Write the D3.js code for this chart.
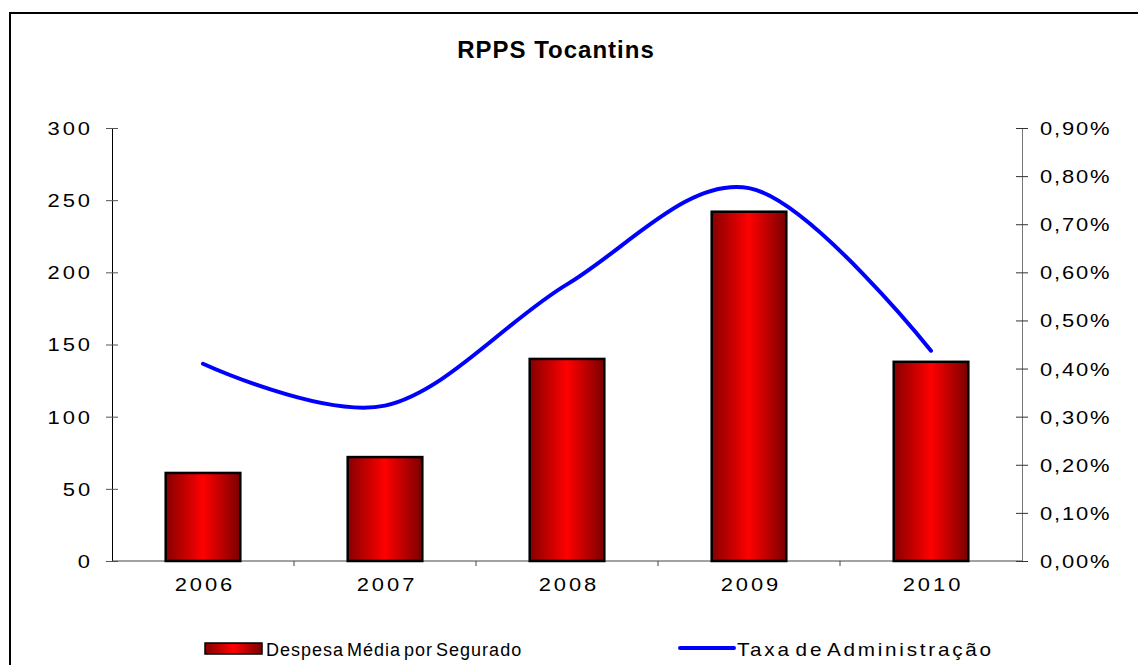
<!DOCTYPE html>
<html>
<head>
<meta charset="utf-8">
<script src="https://cdn.jsdelivr.net/npm/d3@7"></script>
<style>
  html, body { margin: 0; padding: 0; background: #fff; }
  svg { display: block; }
  text { font-family: "Liberation Sans", Arial, sans-serif; fill: #000; }
</style>
</head>
<body>
<svg id="chart" width="1138" height="665"></svg>
<script>
const title = "RPPS Tocantins";
const categories = ["2006", "2007", "2008", "2009", "2010"];
const despesa = [61, 72, 140, 242, 138];
const taxa = [0.41, 0.323, 0.575, 0.775, 0.437];
const leftTicks = [0, 50, 100, 150, 200, 250, 300];
const rightTicks = [0, 0.1, 0.2, 0.3, 0.4, 0.5, 0.6, 0.7, 0.8, 0.9];
const seriesNames = ["Despesa Média por Segurado", "Taxa de Administração"];

const svg = d3.select("#chart");
const W = 1138, H = 665;
const plot = { left: 112, right: 1022, top: 128, bottom: 561 };
const SX = 1.22; // horizontal stretch of axis text

// frame
svg.append("rect").attr("x", 10).attr("y", 13).attr("width", W + 20).attr("height", H + 20)
  .attr("fill", "#fff").attr("stroke", "#000").attr("stroke-width", 2);

// gradient
const defs = svg.append("defs");
const g1 = defs.append("linearGradient").attr("id", "barGrad").attr("x1", "0%").attr("x2", "100%").attr("y1", "0%").attr("y2", "0%");
g1.append("stop").attr("offset", "0%").attr("stop-color", "#860000");
g1.append("stop").attr("offset", "50%").attr("stop-color", "#ff0000");
g1.append("stop").attr("offset", "100%").attr("stop-color", "#7a0000");

const x = d3.scaleBand().domain(categories).range([plot.left, plot.right]).paddingInner(0.59).paddingOuter(0.295);
const xOuter = d3.scaleBand().domain(categories).range([plot.left, plot.right]);
const yL = d3.scaleLinear().domain([0, 300]).range([plot.bottom, plot.top]);
const yR = d3.scaleLinear().domain([0, 0.9]).range([plot.bottom, plot.top]);

// title
svg.append("text").attr("x", 556).attr("y", 58).attr("text-anchor", "middle")
  .style("font-size", "24px").style("font-weight", "bold").style("letter-spacing", "1px").text(title);

// left axis
const leftAxis = d3.axisLeft(yL).tickValues(leftTicks).tickSizeInner(6).tickSizeOuter(0);
const gL = svg.append("g").attr("transform", `translate(${plot.left},0)`).call(leftAxis);
gL.select(".domain").attr("stroke", "#000");
gL.selectAll(".tick line").attr("x2", 6).attr("x1", -6).attr("stroke", "#555");
gL.selectAll(".tick text").style("font-size", "18px").style("letter-spacing", "2.4px")
  .attr("x", -19 / SX).attr("dy", "0.36em").attr("transform", `scale(${SX},1)`);

// right axis
const rightAxis = d3.axisRight(yR).tickValues(rightTicks).tickSizeInner(6).tickSizeOuter(0)
  .tickFormat(d => d.toFixed(2).replace(".", ",") + "%");
const gR = svg.append("g").attr("transform", `translate(${plot.right},0)`).call(rightAxis);
gR.select(".domain").attr("stroke", "#777");
gR.selectAll(".tick line").attr("x1", -6).attr("x2", 6).attr("stroke", "#333");
gR.selectAll(".tick text").style("font-size", "18px").style("letter-spacing", "1.5px")
  .attr("x", 18 / SX).attr("dy", "0.36em").attr("transform", `scale(${SX},1)`);

// bottom axis
const gB = svg.append("g").attr("transform", `translate(0,${plot.bottom})`);
gB.append("line").attr("x1", plot.left).attr("x2", plot.right).attr("stroke", "#444");
const bounds = categories.slice(1).map(c => xOuter(c));
gB.selectAll("line.tk").data(bounds).enter().append("line").attr("class", "tk")
  .attr("x1", d => d).attr("x2", d => d).attr("y1", 0).attr("y2", 5).attr("stroke", "#444");
gB.selectAll("text").data(categories).enter().append("text")
  .attr("x", d => (xOuter(d) + xOuter.bandwidth() / 2 + 2) / SX).attr("y", 30).attr("text-anchor", "middle")
  .attr("transform", `scale(${SX},1)`)
  .style("font-size", "18px").style("letter-spacing", "2.4px").text(d => d);

// bars
svg.append("g").selectAll("rect").data(categories).enter().append("rect")
  .attr("x", d => x(d)).attr("width", x.bandwidth())
  .attr("y", (d, i) => yL(despesa[i])).attr("height", (d, i) => plot.bottom - yL(despesa[i]))
  .attr("fill", "url(#barGrad)").attr("stroke", "#000").attr("stroke-width", 2.5);

// line
const line = d3.line().x((d, i) => xOuter(categories[i]) + xOuter.bandwidth() / 2).y(d => yR(d)).curve(d3.curveCardinal);
svg.append("path").datum(taxa).attr("d", line).attr("fill", "none").attr("stroke", "#0000ff")
  .attr("stroke-width", 4).attr("stroke-linecap", "round");

// legend
const lg = svg.append("g");
lg.append("rect").attr("x", 205).attr("y", 643).attr("width", 57).attr("height", 11)
  .attr("fill", "url(#barGrad)").attr("stroke", "#000").attr("stroke-width", 1.5);
lg.append("text").attr("x", 266).attr("y", 656).style("font-size", "18px").style("letter-spacing", "1px")
  .style("word-spacing", "-3px").text(seriesNames[0]);
lg.append("line").attr("x1", 680).attr("x2", 734).attr("y1", 648).attr("y2", 648)
  .attr("stroke", "#0000ff").attr("stroke-width", 4).attr("stroke-linecap", "round");
lg.append("text").attr("x", 737 / 1.15).attr("y", 656).attr("transform", "scale(1.15,1)")
  .style("font-size", "18px").style("letter-spacing", "2.4px")
  .style("word-spacing", "-4px").text(seriesNames[1]);
</script>
</body>
</html>
